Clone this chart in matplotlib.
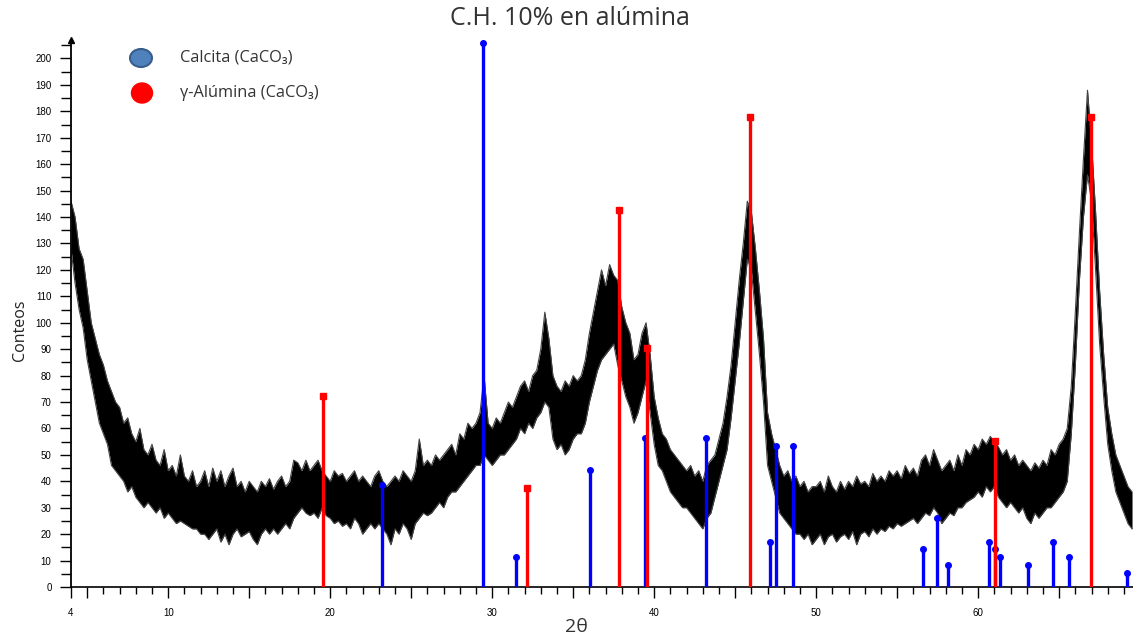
import numpy as np
import matplotlib
matplotlib.use("Agg")
from matplotlib import pyplot as plt
from matplotlib.patches import Ellipse

plt.rcParams['font.family'] = ['Open Sans', 'DejaVu Sans']

# rejilla de lectura 2theta (cada 0.25 grados)
dos_theta = np.arange(4.0, 69.51, 0.25)

conteos_alto = [
    146, 140, 128, 124, 112, 100, 94, 88, 84, 78, 74, 70, 68, 62, 64, 58,
    55, 60, 52, 50, 54, 48, 46, 52, 44, 46, 42, 50, 42, 40, 44, 38,
    40, 44, 38, 45, 40, 44, 38, 42, 45, 38, 40, 36, 40, 38, 36, 40,
    38, 41, 37, 40, 42, 38, 40, 48, 47, 44, 48, 44, 46, 48, 44, 42,
    40, 44, 42, 43, 40, 42, 44, 40, 42, 40, 38, 42, 44, 40, 38, 40,
    42, 40, 44, 42, 40, 44, 56, 46, 48, 46, 50, 48, 50, 52, 54, 50,
    58, 56, 62, 60, 62, 66, 80, 62, 60, 64, 62, 66, 70, 68, 72, 76,
    78, 74, 80, 82, 90, 104, 94, 80, 76, 74, 78, 76, 80, 78, 80, 86,
    96, 104, 112, 120, 114, 122, 118, 116, 106, 100, 96, 86, 88, 96, 100, 88,
    72, 64, 58, 56, 52, 50, 48, 46, 44, 46, 42, 44, 40, 46, 48, 50,
    56, 62, 72, 84, 100, 116, 130, 146, 142, 128, 112, 94, 66, 58, 52, 46,
    42, 44, 40, 42, 38, 40, 36, 38, 38, 40, 36, 42, 38, 36, 40, 37,
    40, 38, 42, 39, 40, 38, 43, 40, 42, 40, 44, 42, 44, 41, 46, 43,
    45, 42, 48, 50, 46, 52, 48, 44, 46, 48, 44, 50, 46, 52, 50, 54,
    52, 56, 54, 57, 55, 53, 50, 52, 48, 50, 46, 48, 46, 44, 47, 45,
    48, 46, 52, 50, 54, 56, 60, 76, 104, 134, 162, 188, 168, 142, 112, 88,
    68, 58, 50, 46, 42, 38, 36,
]
conteos_bajo = [
    128, 115, 105, 98, 86, 78, 70, 62, 58, 54, 46, 44, 42, 40, 36, 38,
    34, 32, 30, 32, 30, 28, 30, 26, 28, 26, 24, 25, 24, 23, 22, 22,
    20, 20, 18, 20, 22, 17, 20, 16, 20, 22, 19, 20, 21, 18, 16, 20,
    22, 20, 22, 20, 22, 24, 22, 26, 28, 30, 28, 27, 28, 26, 30, 27,
    26, 24, 25, 23, 24, 22, 26, 24, 20, 22, 24, 22, 24, 22, 20, 16,
    22, 20, 24, 22, 18, 24, 26, 28, 27, 28, 30, 32, 30, 34, 36, 36,
    38, 40, 42, 44, 46, 46, 50, 48, 46, 48, 50, 50, 52, 54, 56, 60,
    58, 62, 60, 64, 66, 70, 68, 56, 52, 54, 50, 52, 56, 58, 58, 62,
    70, 76, 82, 86, 88, 90, 92, 84, 78, 72, 68, 62, 66, 72, 78, 66,
    54, 46, 44, 40, 36, 34, 32, 30, 30, 28, 26, 24, 22, 26, 28, 34,
    40, 46, 52, 64, 78, 92, 108, 124, 120, 104, 88, 70, 46, 40, 34, 28,
    26, 24, 22, 20, 20, 18, 20, 16, 18, 20, 16, 19, 20, 17, 19, 20,
    18, 21, 16, 20, 21, 19, 22, 20, 22, 21, 23, 22, 24, 23, 24, 25,
    26, 24, 26, 28, 27, 30, 28, 24, 26, 28, 27, 30, 30, 32, 33, 34,
    36, 34, 38, 36, 38, 34, 32, 30, 32, 30, 28, 30, 26, 24, 28, 26,
    28, 30, 30, 32, 34, 36, 40, 58, 84, 116, 140, 156, 146, 120, 92, 72,
    54, 44, 36, 32, 28, 24, 22,
]

# fichas de referencia (2theta, intensidad)
calcita_2t = [23.18, 29.45, 31.49, 36.05, 39.45, 43.22, 47.15, 47.55, 48.55,
              56.6, 57.43, 58.12, 60.69, 61.02, 61.36, 63.07, 64.64, 65.6, 69.17]
calcita_i = [38.5, 206, 11.3, 44.3, 56.5, 56.5, 17, 53.4, 53.4,
             14.2, 26.3, 8.2, 17, 14.2, 11.2, 8.2, 17, 11.2, 5.2]
alumina_2t = [19.54, 32.13, 37.81, 39.57, 45.91, 61.06, 66.98]
alumina_i = [72.3, 37.3, 142.8, 90.4, 178, 55.4, 178]

fig = plt.figure(figsize=(11.33, 6.39), dpi=100)
ax = fig.add_axes([71 / 1133, 52 / 639, 1 - 71 / 1133, 547 / 639])

ax.fill_between(dos_theta, conteos_bajo, conteos_alto, color='black', lw=0, zorder=2)
ax.plot(dos_theta, conteos_alto, color='#444444', lw=0.8, zorder=2)
ax.plot(dos_theta, conteos_bajo, color='#444444', lw=0.8, zorder=2)

ax.vlines(calcita_2t, 0, calcita_i, color='#0000FF', lw=2.4, zorder=3)
ax.plot(calcita_2t, calcita_i, 'o', color='#0000FF', ms=4, zorder=3)
ax.vlines(alumina_2t, 0, alumina_i, color='#FF0000', lw=2.4, zorder=3)
ax.plot(alumina_2t, alumina_i, 's', color='#FF0000', ms=4, zorder=3)

ax.set_xlim(4, 69.56)
ax.set_ylim(0, 207)

for s in ['top', 'right']:
    ax.spines[s].set_visible(False)
ax.spines['left'].set_linewidth(1.3)
ax.spines['bottom'].set_linewidth(1.2)
ax.plot(0, 1, '^', color='black', ms=5, transform=ax.transAxes, clip_on=False)

xt = [4] + list(range(5, 70, 5))
ax.set_xticks(xt)
ax.set_xticklabels([str(v) if (v == 4 or v % 10 == 0) else '' for v in xt])
ax.set_xticks(range(4, 70), minor=True)
ax.set_yticks(range(0, 201, 10))
ax.set_yticks(range(5, 206, 10), minor=True)
ax.tick_params(axis='x', which='major', length=8, width=1, pad=7, labelsize=7)
ax.tick_params(axis='x', which='minor', length=5, width=1)
ax.tick_params(axis='y', which='major', length=8, width=1, pad=6, labelsize=7)
ax.tick_params(axis='y', which='minor', length=7, width=1)
for lb in ax.get_xticklabels() + ax.get_yticklabels():
    lb.set_family(['Liberation Sans', 'DejaVu Sans'])

fig.text(0.503, 0.971, 'C.H. 10% en alúmina', ha='center', va='center',
         fontsize=18, color='#333333')
fig.text(576 / 1133, 1 - 627 / 639, '2θ', ha='center', va='center',
         fontsize=14, color='#333333')
fig.text(20 / 1133, 1 - 330 / 639, 'Conteos', ha='center', va='center',
         rotation=90, fontsize=11.5, color='#222222')

# leyenda
fig.add_artist(Ellipse((141 / 1133, 1 - 58 / 639), 22 / 1133, 18 / 639,
                       transform=fig.transFigure, facecolor='#4F81BD',
                       edgecolor='#385D8A', lw=1.5))
fig.add_artist(Ellipse((142 / 1133, 1 - 93 / 639), 21 / 1133, 20 / 639,
                       transform=fig.transFigure, facecolor='#FF0000',
                       edgecolor='#FF0000', lw=1))
fig.text(180 / 1133, 1 - 58 / 639, 'Calcita (CaCO₃)', va='center',
         fontsize=11.8, color='#333333')
fig.text(180 / 1133, 1 - 93 / 639, 'γ-Alúmina (CaCO₃)', va='center',
         fontsize=11.8, color='#333333')

fig.savefig('out.png', dpi=100)
